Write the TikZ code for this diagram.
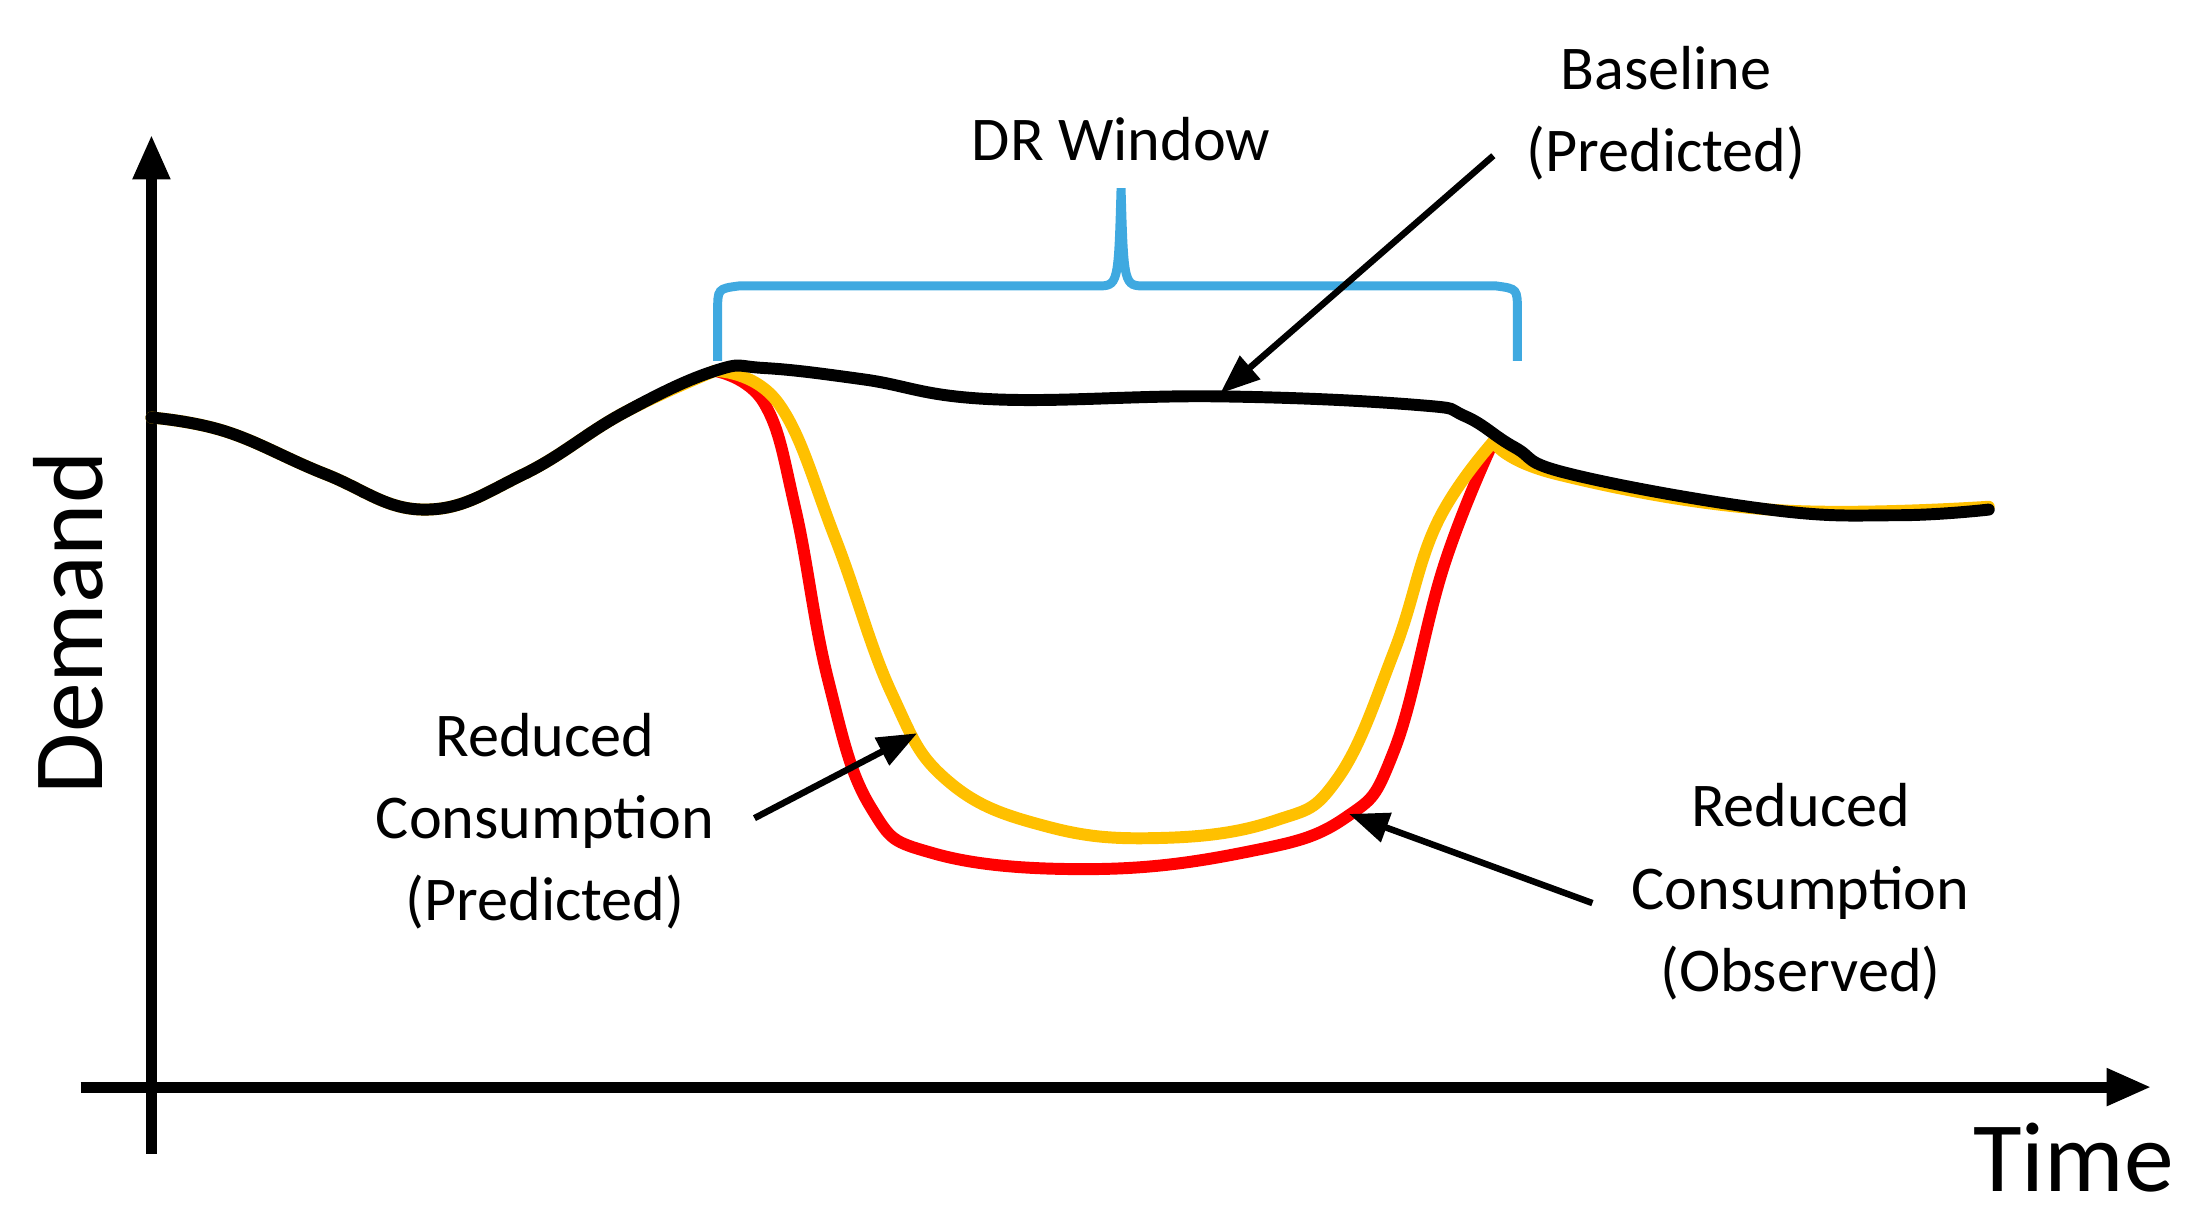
\documentclass[tikz,border=0pt]{standalone}
\usepackage{fontspec}
\setmainfont{Carlito}
\usetikzlibrary{arrows.meta}
\definecolor{bl}{HTML}{3FA9E0}
\definecolor{yel}{HTML}{FFC000}
\begin{document}
\begin{tikzpicture}[x=0.01cm,y=-0.01cm,
 lab/.style={font=\fontsize{12.5}{16.5}\selectfont,align=center},
 big/.style={font=\fontsize{20}{24}\selectfont},
 axis/.style={line width=2.2pt,-{Triangle[length=9pt,width=7pt]}},
 ptr/.style={line width=1.3pt,-{Triangle[length=8pt,width=6pt]}},
 curve/.style={line width=2.4pt,line cap=round,line join=round}]
\useasboundingbox (0,0) rectangle (1550,869);
\coordinate (yo) at (107,815); \coordinate (ye) at (107,95);
\coordinate (xo) at (57,768); \coordinate (xe) at (1520,768);
\draw[axis] (yo) -- (ye);
\draw[axis] (xo) -- (xe);
\node[big,rotate=90] (dem) at (48,440) {Demand};
\node[big] (time) at (1465,818) {Time};
% curves
\draw[curve,red] plot[smooth,tension=0.7] coordinates{(505,262) (540,285) (562,360) (585,480) (615,570) (660,603) (770,614) (880,602) (950,578) (985,530) (1020,400) (1055,312)};
\draw[curve,yel] plot[smooth,tension=0.7] coordinates{(107,295) (160,305) (230,335) (300,360) (370,335) (440,292) (505,262)};
\draw[curve,yel] plot[smooth,tension=0.7] coordinates{(505,262) (550,285) (590,380) (630,490) (670,552) (740,584) (820,592) (900,580) (945,550) (985,460) (1015,370) (1055,312)};
\draw[curve,yel] plot[smooth,tension=0.7] coordinates{(1055,312) (1100,335) (1250,360) (1405,358)};
\draw[curve,black] plot[smooth,tension=0.7] coordinates{(107,295) (160,305) (230,335) (300,360) (370,335) (440,292) (505,262) (540,260) (610,268) (700,282) (860,280) (1000,286) (1035,294) (1070,316) (1110,335) (1250,360) (1340,364) (1405,360)};
% brace
\draw[bl,line width=1.8pt] (507,255) -- (507,220) .. controls (507,204) .. (522,202) -- (775,202) .. controls (790,202) .. (792,133) .. controls (794,202) .. (809,202) -- (1057,202) .. controls (1072,204) .. (1072,220) -- (1072,255);
\node[lab] (dr) at (792,98) {DR Window};
\node[lab] (base) at (1177,80) {Baseline\\(Predicted)};
\node[lab] (rcp) at (385,580) {Reduced\\Consumption\\(Predicted)};
\node[lab] (rco) at (1272,630) {Reduced\\Consumption\\(Observed)};
\coordinate (b1) at (1055,110); \coordinate (b2) at (862,278);
\coordinate (p1) at (533,578); \coordinate (p2) at (648,518);
\coordinate (o1) at (1125,638); \coordinate (o2) at (953,575);
\draw[ptr] (b1) -- (b2);
\draw[ptr] (p1) -- (p2);
\draw[ptr] (o1) -- (o2);
\end{tikzpicture}
\end{document}
